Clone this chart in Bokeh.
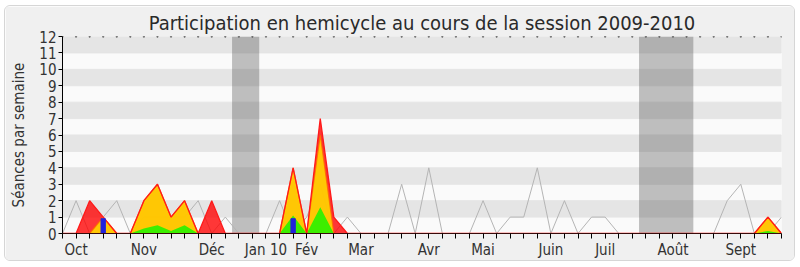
from bokeh.plotting import figure
from bokeh.models import FixedTicker, Range1d
from bokeh.embed import file_html
from bokeh.resources import INLINE

# Weeks of the 2009-2010 session (index 0 = first week of October)
weeks = list(range(54))

# Month labels placed on the first week of each month
month_weeks = [1, 6, 11, 15, 18, 22, 27, 31, 36, 40, 45, 50]
month_names = ["Oct", "Nov", "Déc", "Jan 10", "Fév", "Mar", "Avr", "Mai",
               "Juin", "Juil", "Août", "Sept"]

# Parliamentary recess periods (week bounds)
recess_start = [12.5, 42.5]
recess_end = [14.5, 46.5]

# Median deputy presence (gray line)
median_presence = [0, 2, 0, 1, 2, 0, 1, 1, 1, 1, 2, 0, 1, 0, 0, 0, 2, 0, 1, 3,
                   0, 1, 0, 0, 0, 3, 0, 4, 0, 0, 0, 2, 0, 1, 1, 4, 0, 2, 0, 1,
                   1, 0, 0, 0, 0, 0, 0, 0, 0, 2, 3, 0, 0, 1]

# Presence sessions (red)
presence = [0, 0, 2, 1, 0, 0, 2, 3, 1, 2, 0, 2, 0, 0, 0, 0, 0, 4, 0, 7,
            1, 0, 0, 0, 0, 0, 0, 0, 0, 0, 0, 0, 0, 0, 0, 0, 0, 0, 0, 0,
            0, 0, 0, 0, 0, 0, 0, 0, 0, 0, 0, 0, 1, 0]

# Sessions with interventions (yellow)
interventions = [0, 0, 0, 1, 0, 0, 2, 3, 1, 2, 0, 0, 0, 0, 0, 0, 0, 4, 0, 6,
                 0, 0, 0, 0, 0, 0, 0, 0, 0, 0, 0, 0, 0, 0, 0, 0, 0, 0, 0, 0,
                 0, 0, 0, 0, 0, 0, 0, 0, 0, 0, 0, 0, 1, 0]

# Long interventions (green)
long_interventions = [0, 0, 0, 0, 0, 0, 0.3, 0.5, 0.15, 0.5, 0, 0, 0, 0, 0, 0, 0, 1.1, 0, 1.6,
                      0, 0, 0, 0, 0, 0, 0, 0, 0, 0, 0, 0, 0, 0, 0, 0, 0, 0, 0, 0,
                      0, 0, 0, 0, 0, 0, 0, 0, 0, 0, 0, 0, 0.15, 0]

# Oral questions (blue bars)
question_weeks = [3, 17]
questions = [0.9, 0.9]

FONT = "DejaVu Sans Condensed"

p = figure(width=791, height=256, output_backend="svg", toolbar_location=None,
           x_range=Range1d(0, 53), y_range=Range1d(0, 12),
           min_border_left=57, min_border_right=15, min_border_top=30,
           min_border_bottom=29,
           title="Participation en hemicycle au cours de la session 2009-2010")
p.styles = {"margin": "5px 0 0 4px", "border": "1px solid #d6d6d6",
            "border-radius": "6px", "overflow": "hidden"}
p.background_fill_color = "#fafafa"
p.border_fill_color = "#f0f0f0"
p.outline_line_color = None
p.xgrid.grid_line_color = None
p.ygrid.grid_line_color = None

p.title.align = "center"
p.title.text_font = FONT
p.title.text_font_size = "20px"
p.title.text_font_style = "normal"
p.title.text_color = "#2a2a2a"
p.title.standoff = 4
p.title.offset = 0

# alternating horizontal bands
band_centers = [k + 0.5 for k in range(1, 12, 2)]
p.hbar(y=band_centers, height=1, left=0, right=53, color="#e5e5e5", level="underlay")

# recess shading
p.quad(left=recess_start, right=recess_end, bottom=0, top=12,
       fill_color="#4e4e4e", fill_alpha=0.35, line_color=None)

# dotted top edge
p.scatter(weeks, [12] * len(weeks), marker="square", size=1.2, color="#555555")

p.line(weeks, median_presence, line_color="#b4b4b4", line_width=1)

p.varea(x=weeks, y1=0, y2=presence, fill_color="#ff0000", fill_alpha=0.78)
p.varea(x=weeks, y1=0, y2=interventions, fill_color="#ffd400", fill_alpha=0.92)
p.varea(x=weeks, y1=0, y2=long_interventions, fill_color="#33f000", fill_alpha=0.95)
p.line(weeks, interventions, line_color="#ff6a00", line_width=1.2, line_alpha=0.8)
p.line(weeks, presence, line_color="#ff1a1a", line_width=1.3)

p.vbar(x=question_weeks, top=questions, width=0.32, color="#2222dd")

# axes
p.xaxis.ticker = FixedTicker(ticks=weeks)
p.xaxis.major_label_overrides = {w: "" for w in weeks}
p.xaxis.major_label_overrides.update(dict(zip(month_weeks, month_names)))
p.xaxis.axis_line_color = "#3a0a0a"
p.xaxis.major_tick_out = 5
p.xaxis.major_tick_in = 0
p.xaxis.minor_tick_line_color = None

p.yaxis.ticker = FixedTicker(ticks=list(range(13)))
p.yaxis.major_tick_out = 4
p.yaxis.major_tick_in = 0
p.yaxis.minor_tick_line_color = None
p.yaxis.axis_label = "Séances par semaine"

for ax in (p.xaxis[0], p.yaxis[0]):
    ax.major_label_text_font = FONT
    ax.major_label_text_font_size = "15px"
    ax.major_label_text_color = "#333333"
    ax.axis_label_text_font = FONT
    ax.axis_label_text_font_size = "15px"
    ax.axis_label_text_font_style = "normal"
    ax.axis_label_text_color = "#333333"
    ax.major_label_standoff = 2

p.yaxis.axis_label_standoff = 8

open("out.html", "w").write(file_html(p, INLINE))
